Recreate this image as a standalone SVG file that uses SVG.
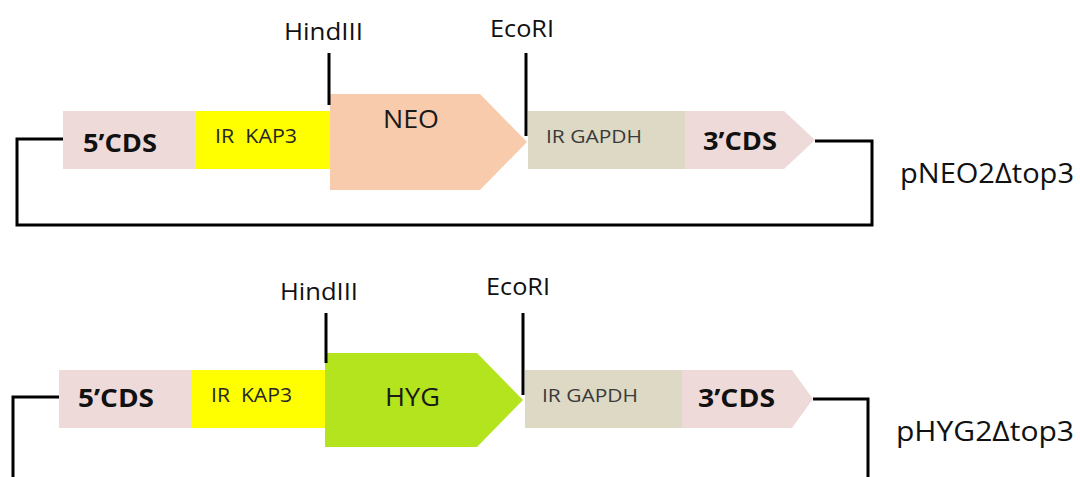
<svg xmlns="http://www.w3.org/2000/svg" width="1080" height="477" viewBox="0 0 1080 477">
  <style>
    .cds { fill: #efdada; }
    .kap { fill: #ffff00; }
    .neo { fill: #f8cbad; }
    .hyg { fill: #b4e41e; }
    .gapdh { fill: #ddd9c4; }
    .wire { fill: none; stroke: #000; stroke-width: 3; }
    .site { stroke: #000; stroke-width: 3; }
    text { font-family: "Open Sans", "Liberation Sans", Arial, sans-serif; }
    .bold { font-weight: bold; font-size: 25px; fill: #111; }
    .ir { font-size: 20px; fill: #262626; }
    .irg { font-size: 19px; fill: #3a3a3a; }
    .gene { font-size: 25px; fill: #1a1a1a; }
    .enz { font-size: 23px; fill: #111; }
    .name { font-size: 27px; fill: #111; }
  </style>

  <rect width="1080" height="477" fill="#ffffff"/>

  <!-- backbone brackets closing each plasmid -->
  <g id="connectors">
    <path class="wire" d="M63,139 H17 V225 H872 V141 H815"/>
    <path class="wire" d="M59,397 H13 V480"/>
    <path class="wire" d="M813,399 H868 V480"/>
  </g>

  <!-- pNEO2Δtop3 -->
  <g id="neo-5cds">
    <rect class="cds" x="63" y="111" width="132" height="58"/>
    <text class="bold" x="83" y="152" textLength="74" lengthAdjust="spacingAndGlyphs">5’CDS</text>
  </g>
  <g id="neo-ir-kap3">
    <rect class="kap" x="195" y="111" width="135" height="58"/>
    <text class="ir" x="215" y="143" textLength="82" lengthAdjust="spacingAndGlyphs" xml:space="preserve">IR  KAP3</text>
  </g>
  <g id="neo-gene">
    <polygon class="neo" points="330,94 480,94 527,142 480,190 330,190"/>
    <text class="gene" x="383" y="128" textLength="56" lengthAdjust="spacingAndGlyphs">NEO</text>
  </g>
  <g id="neo-ir-gapdh">
    <rect class="gapdh" x="528" y="111" width="157" height="58"/>
    <text class="irg" x="546" y="143" textLength="96" lengthAdjust="spacingAndGlyphs">IR GAPDH</text>
  </g>
  <g id="neo-3cds">
    <polygon class="cds" points="685,111 784,111 815,140 784,169 685,169"/>
    <text class="bold" x="703" y="150" textLength="74" lengthAdjust="spacingAndGlyphs">3’CDS</text>
  </g>
  <g id="neo-hindiii">
    <line class="site" x1="329" y1="53" x2="329" y2="105"/>
    <text class="enz" x="284" y="40" textLength="79" lengthAdjust="spacingAndGlyphs">HindIII</text>
  </g>
  <g id="neo-ecori">
    <line class="site" x1="526" y1="53" x2="526" y2="136"/>
    <text class="enz" x="490" y="37" textLength="64" lengthAdjust="spacingAndGlyphs">EcoRI</text>
  </g>
  <g id="neo-name">
    <text class="name" x="900" y="183" textLength="174" lengthAdjust="spacingAndGlyphs">pNEO2Δtop3</text>
  </g>

  <!-- pHYG2Δtop3 -->
  <g id="hyg-5cds">
    <rect class="cds" x="59" y="370" width="133" height="58"/>
    <text class="bold" x="78" y="407" textLength="76" lengthAdjust="spacingAndGlyphs">5’CDS</text>
  </g>
  <g id="hyg-ir-kap3">
    <rect class="kap" x="192" y="370" width="133" height="58"/>
    <text class="ir" x="211" y="402" textLength="81" lengthAdjust="spacingAndGlyphs" xml:space="preserve">IR  KAP3</text>
  </g>
  <g id="hyg-gene">
    <polygon class="hyg" points="325,353 477,353 523,400 477,447 325,447"/>
    <text class="gene" x="385" y="406" textLength="55" lengthAdjust="spacingAndGlyphs">HYG</text>
  </g>
  <g id="hyg-ir-gapdh">
    <rect class="gapdh" x="525" y="370" width="157" height="58"/>
    <text class="irg" x="542" y="402" textLength="96" lengthAdjust="spacingAndGlyphs">IR GAPDH</text>
  </g>
  <g id="hyg-3cds">
    <polygon class="cds" points="682,370 792,370 813,399 792,428 682,428"/>
    <text class="bold" x="698" y="407" textLength="77" lengthAdjust="spacingAndGlyphs">3’CDS</text>
  </g>
  <g id="hyg-hindiii">
    <line class="site" x1="326" y1="313" x2="326" y2="363"/>
    <text class="enz" x="280" y="300" textLength="78" lengthAdjust="spacingAndGlyphs">HindIII</text>
  </g>
  <g id="hyg-ecori">
    <line class="site" x1="523" y1="313" x2="523" y2="395"/>
    <text class="enz" x="486" y="295" textLength="64" lengthAdjust="spacingAndGlyphs">EcoRI</text>
  </g>
  <g id="hyg-name">
    <text class="name" x="896" y="441" textLength="178" lengthAdjust="spacingAndGlyphs">pHYG2Δtop3</text>
  </g>
</svg>
